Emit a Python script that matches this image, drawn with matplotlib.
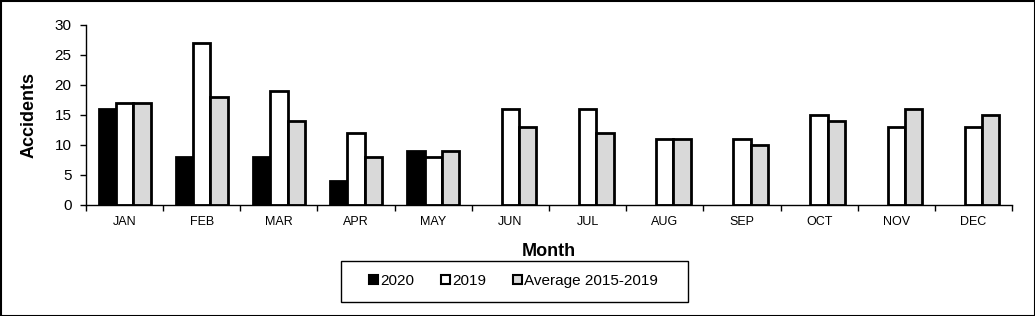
import matplotlib
matplotlib.use("Agg")
import matplotlib.pyplot as plt
import numpy as np
from matplotlib.patches import Rectangle

months = ["JAN", "FEB", "MAR", "APR", "MAY", "JUN", "JUL", "AUG", "SEP", "OCT", "NOV", "DEC"]
y2020 = [16, 8, 8, 4, 9, np.nan, np.nan, np.nan, np.nan, np.nan, np.nan, np.nan]
y2019 = [17, 27, 19, 12, 8, 16, 16, 11, 11, 15, 13, 13]
avg = [17, 18, 14, 8, 9, 13, 12, 11, 10, 14, 16, 15]
labels = ["2020", "2019", "Average 2015-2019"]
colors = ["#000000", "#ffffff", "#d9d9d9"]

plt.rcParams['font.family'] = ['Liberation Sans', 'DejaVu Sans']

W, H = 1035, 316
fig = plt.figure(figsize=(W/100, H/100), dpi=100)
ax = fig.add_axes([86/W, 1-205/H, (1012-86)/W, (205-24.7)/H])

x = np.arange(len(months))
bw = 0.225
series = [y2020, y2019, avg]
handles = []
for i, (s, c, lab) in enumerate(zip(series, colors, labels)):
    b = ax.bar(x + (i-1)*bw, s, width=bw, color=c, edgecolor='black', linewidth=2, label=lab)
    handles.append(b)

ax.set_xlim(-0.5, len(months)-0.5)
ax.set_ylim(0, 30)
ax.set_yticks([0, 5, 10, 15, 20, 25, 30])
ax.set_xticks(x)
ax.set_xticklabels(months, fontsize=9)
ax.tick_params(axis='x', length=0, pad=8)
ax.set_xticks(np.arange(-0.5, len(months)), minor=True)
ax.tick_params(axis='x', which='minor', length=4, direction='out', width=1)
ax.tick_params(axis='y', labelsize=11, length=4, width=1, pad=6.5)
for s in ['top', 'right']:
    ax.spines[s].set_visible(False)
for s in ['left', 'bottom']:
    ax.spines[s].set_linewidth(1)
ax.set_ylabel("Accidents", fontsize=13, fontweight='bold', labelpad=12)
fig.text((86+1012)/2/W, 1-252/H, "Month", ha='center', va='center', fontsize=13, fontweight='bold')

leg = fig.legend(handles=handles, labels=labels, loc='center', ncol=3,
                 bbox_to_anchor=((341+688)/2/W - 1/W, 1-281/H), fontsize=11,
                 frameon=False,
                 handlelength=0.6, handleheight=0.6, handletextpad=0.12,
                 columnspacing=1.75)
for p in leg.get_patches():
    p.set_linewidth(1.5)

fig.patches.append(Rectangle((341/W, 1-301.7/H), (688-341)/W, 41/H, transform=fig.transFigure,
                             fill=False, edgecolor='black', linewidth=1))
fig.patches.append(Rectangle((0.5/W, 0.5/H), 1-1/W, 1-1/H, transform=fig.transFigure,
                             fill=False, edgecolor='black', linewidth=1.5))
fig.savefig("out.png", dpi=100)
